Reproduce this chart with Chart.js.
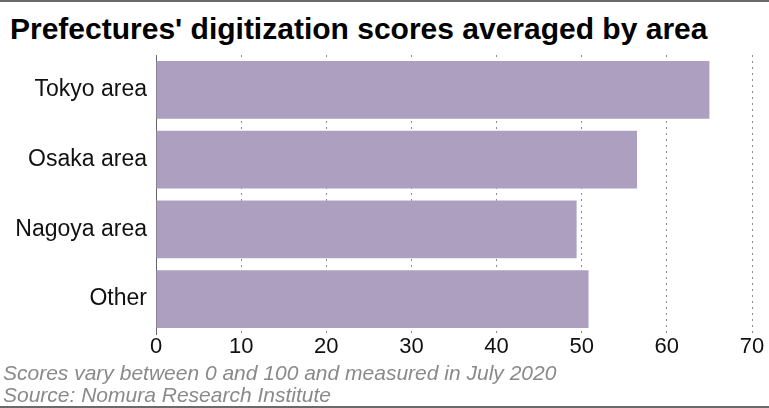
<!DOCTYPE html>
<html>
<head>
<meta charset="utf-8">
<script src="https://cdn.jsdelivr.net/npm/chart.js@4"></script>
<style>
  html, body { margin: 0; padding: 0; background: #fff; }
  #marco {
    position: relative; width: 769px; height: 408px; overflow: hidden;
    box-sizing: border-box; border-top: 2px solid #6a6a6a; border-bottom: 2px solid #6a6a6a;
    font-family: "Liberation Sans", Arial, sans-serif;
  }
  #titulo {
    position: absolute; left: 10px; top: 10px; margin: 0;
    font-size: 30px; line-height: 34px; font-weight: bold; color: #000; white-space: nowrap;
  }
  #notas {
    position: absolute; left: 3px; top: 360px;
    font-size: 21px; line-height: 22px; font-style: italic; color: #8a8a8a;
  }
  #lienzo { position: absolute; left: 0; top: -2px; width: 769px; height: 408px; }
</style>
</head>
<body>
<div id="marco">
  <h1 id="titulo">Prefectures' digitization scores averaged by area</h1>
  <div id="lienzo"><canvas id="grafico" width="769" height="408"></canvas></div>
  <div id="notas">
    Scores vary between 0 and 100 and measured in July 2020<br>
    Source: Nomura Research Institute
  </div>
</div>
<script>
/* ===================== DATOS ===================== */
const areas = ["Tokyo area", "Osaka area", "Nagoya area", "Other"];
const puntajes = [65.0, 56.5, 49.4, 50.8];
const ticksX = [0, 10, 20, 30, 40, 50, 60, 70];

/* ===================== GRAFICO ===================== */
new Chart(document.getElementById("grafico"), {
  type: "bar",
  data: {
    labels: areas,
    datasets: [
      {
        data: puntajes,
        backgroundColor: "#ac9fc0",
        categoryPercentage: 1,
        barPercentage: 0.83,
      },
    ],
  },
  options: {
    indexAxis: "y",
    responsive: false,
    animation: false,
    layout: { padding: { top: 55, right: 17, bottom: 0, left: 0 } },
    plugins: {
      legend: { display: false },
      tooltip: { enabled: false },
    },
    scales: {
      x: {
        min: ticksX[0],
        max: ticksX[ticksX.length - 1],
        z: 1,
        afterFit: (s) => { s.height = 74; },
        afterBuildTicks: (s) => { s.ticks = ticksX.map((v) => ({ value: v })); },
        grid: { color: "#8a8a8a", lineWidth: 1, drawTicks: false },
        border: { display: false, dash: [2, 4] },
        ticks: {
          padding: 0,
          autoSkip: false,
          maxRotation: 0,
          color: "#111",
          font: { family: "Liberation Sans", size: 22 },
        },
      },
      y: {
        z: 1,
        afterFit: (s) => { s.width = 156; },
        grid: { display: false, drawTicks: false },
        border: { display: true, color: "#666", width: 1 },
        ticks: {
          padding: 9,
          color: "#111",
          font: { family: "Liberation Sans", size: 23 },
        },
      },
    },
  },
});
</script>
</body>
</html>
